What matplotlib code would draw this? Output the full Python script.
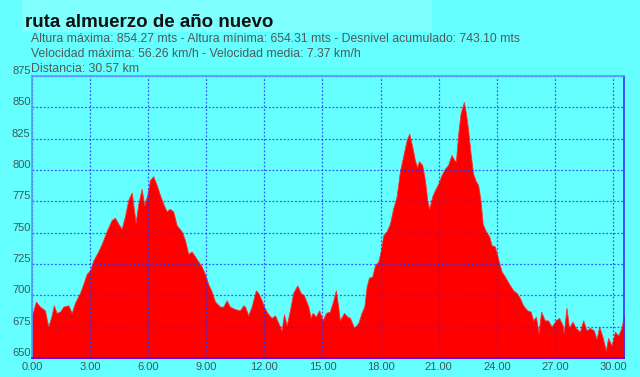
import numpy as np
import matplotlib
matplotlib.use('Agg')
import matplotlib.pyplot as plt
from matplotlib.patches import Rectangle

# elevation profile (km, metres)
dist = [0.0, 0.2, 0.41, 0.67, 0.84, 1.0, 1.13, 1.27, 1.45, 1.62, 1.88, 2.05, 2.22, 2.48,
        2.65, 2.82, 3.0, 3.17, 3.42, 3.6, 3.85, 4.11, 4.28, 4.46, 4.63, 4.8, 4.97, 5.15,
        5.35, 5.49, 5.66, 5.8, 5.97, 6.09, 6.26, 6.44, 6.61, 6.78, 6.95, 7.12, 7.29, 7.47,
        7.73, 7.9, 8.07, 8.24, 8.42, 8.59, 8.76, 8.93, 9.1, 9.28, 9.45, 9.71, 9.88, 10.05,
        10.22, 10.48, 10.74, 10.91, 11.0, 11.17, 11.34, 11.56, 11.68, 11.86, 11.98, 12.15,
        12.37, 12.55, 12.72, 12.89, 13.01, 13.15, 13.32, 13.49, 13.7, 13.87, 14.04, 14.27,
        14.39, 14.49, 14.66, 14.83, 15.01, 15.18, 15.38, 15.56, 15.69, 15.81, 15.9, 16.11,
        16.28, 16.42, 16.64, 16.85, 17.02, 17.16, 17.28, 17.4, 17.57, 17.71, 17.88, 18.02,
        18.14, 18.31, 18.48, 18.65, 18.83, 19.0, 19.17, 19.35, 19.48, 19.63, 19.77, 19.89,
        19.98, 20.15, 20.29, 20.41, 20.51, 20.67, 20.81, 20.98, 21.15, 21.32, 21.49, 21.66,
        21.8, 21.89, 22.01, 22.13, 22.3, 22.41, 22.52, 22.65, 22.78, 22.92, 23.04, 23.16,
        23.27, 23.44, 23.61, 23.73, 23.9, 24.07, 24.25, 24.42, 24.64, 24.85, 25.02, 25.19,
        25.36, 25.57, 25.75, 25.88, 26.02, 26.16, 26.29, 26.48, 26.65, 26.83, 27.05, 27.22,
        27.4, 27.46, 27.6, 27.73, 27.91, 28.08, 28.29, 28.46, 28.64, 28.81, 29.01, 29.15,
        29.29, 29.46, 29.63, 29.75, 29.93, 30.1, 30.27, 30.44, 30.57]
elev = [684, 695, 691, 688, 675, 683, 692, 686, 687, 691, 692, 686, 694, 702,
        709, 717, 720, 728, 735, 741, 751, 760, 762, 757, 753, 763, 776, 782,
        758, 773, 785, 772, 781, 792, 795, 788, 780, 773, 767, 769, 767, 756,
        751, 744, 733, 735, 731, 727, 723, 717, 709, 703, 695, 691, 691, 696,
        691, 689, 688, 692, 691, 684, 691, 704, 702, 696, 691, 686,
        682, 684, 678, 672, 685, 676, 688, 702, 708, 702, 700, 691,
        682, 686, 683, 688, 680, 686, 687, 696, 704, 691, 680, 686,
        683, 682, 674, 678, 686, 691, 707, 714, 715, 724, 727, 736,
        748, 751, 757, 769, 779, 799, 811, 824, 829, 819, 808, 802,
        807, 804, 792, 776, 769, 779, 784, 789, 796, 801, 804, 812,
        808, 807, 829, 845, 854.27, 845, 832, 813, 797, 791, 788, 776,
        757, 751, 747, 740, 739, 729, 719, 715, 709, 704, 702, 698,
        692, 688, 687, 680, 683, 670, 687, 680, 680, 675, 680, 682,
        676, 670, 690, 674, 679, 674, 671, 680, 672, 674, 672, 665,
        675, 667, 656, 666, 660, 671, 668, 674, 684]

title = 'ruta almuerzo de año nuevo'
info = ['Altura máxima: 854.27 mts - Altura mínima: 654.31 mts - Desnivel acumulado: 743.10 mts',
        'Velocidad máxima: 56.26 km/h - Velocidad media: 7.37 km/h',
        'Distancia: 30.57 km']
xticks = [0, 3, 6, 9, 12, 15, 18, 21, 24, 27, 30]
yticks = [650, 675, 700, 725, 750, 775, 800, 825, 850, 875]

bg = '#66FFFF'
txt = '#3A5A5A'
W, H = 640, 377

fig = plt.figure(figsize=(6.4, 3.77), dpi=100, facecolor=bg)
fig.patches.append(Rectangle((22/W, 1-32/H), 410/W, 32/H, transform=fig.transFigure,
                             facecolor='#80FFFF', edgecolor='none', zorder=0))
fig.text(25/W, 1-27/H, title, fontsize=13.5, fontweight='bold', fontstretch='condensed',
         color='#111111', family=['Liberation Sans', 'DejaVu Sans'], va='baseline')
for i, s in enumerate(info):
    fig.text(31/W, 1-(42+15*i)/H, s, fontsize=8.8, color='#505A5A',
             family=['Liberation Sans', 'DejaVu Sans'], va='baseline')

ax = fig.add_axes([32/W, 1-358/H, 592/W, 282/H])
ax.set_facecolor(bg)
ax.fill_between(dist, 650, elev, color='#FF0000', linewidth=0.6, edgecolor='#FF3030', zorder=2)
ax.set_xlim(0, 30.57)
ax.set_ylim(650, 875)
ax.set_xticks(xticks)
ax.set_xticklabels(['%.2f' % v for v in xticks])
ax.set_yticks(yticks)
ax.grid(True, color='#2233FF', linestyle=(0, (1.5, 1.5)), linewidth=0.9, alpha=0.8, zorder=3)
ax.set_axisbelow(False)
ax.tick_params(length=0, labelsize=8, labelcolor=txt, pad=3)
for lbl in ax.get_xticklabels() + ax.get_yticklabels():
    lbl.set_family(['Liberation Sans', 'DejaVu Sans'])
for lbl in ax.get_yticklabels():
    lbl.set_va('bottom')
ax.tick_params(axis='y', pad=1)
ax.spines['left'].set_color('#5599FF')
ax.spines['top'].set_color('#5599FF')
ax.spines['bottom'].set_color('#5500FF')
ax.spines['right'].set_color('#3333FF')
for sp in ax.spines.values():
    sp.set_linewidth(1.2)
    sp.set_zorder(4)

plt.savefig('out.png', dpi=100, facecolor=bg)
